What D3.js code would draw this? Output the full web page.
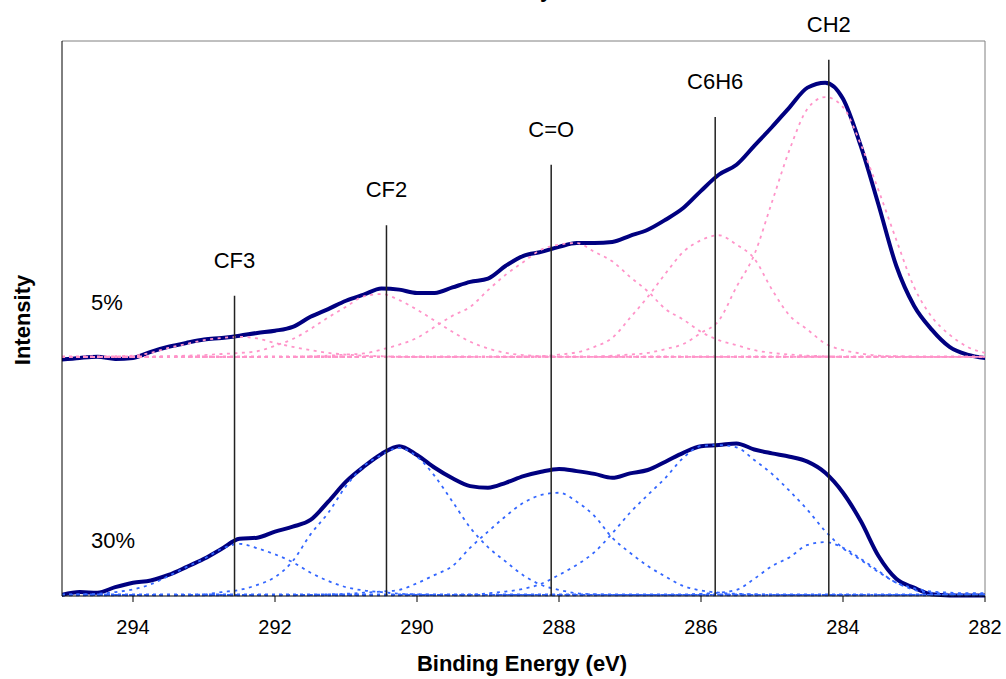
<!DOCTYPE html>
<html>
<head>
<meta charset="utf-8">
<title>C1s spectra</title>
<script src="https://cdn.jsdelivr.net/npm/d3@7"></script>
<style>
  body { margin: 0; background: #fff; }
  svg { display: block; font-family: "Liberation Sans", Arial, sans-serif; }
  .env { fill: none; stroke: #000080; stroke-width: 4; stroke-linejoin: round; stroke-linecap: round; }
  .comp { fill: none; stroke-width: 1.8; stroke-dasharray: 3 4.5; }
  .base { fill: none; stroke-width: 2.6; stroke-dasharray: 3 4; }
  .marker { stroke: #222; stroke-width: 1.5; }
</style>
</head>
<body>
<svg width="1006" height="679"></svg>
<script>
// binding energy grid (eV)
var energy = [295, 294.75, 294.5, 294.25, 294, 293.75, 293.5, 293.25, 293, 292.75, 292.5, 292.25, 292,
  291.75, 291.5, 291.25, 291, 290.75, 290.5, 290.25, 290, 289.75, 289.5, 289.25, 289, 288.75, 288.5,
  288.25, 288, 287.75, 287.5, 287.25, 287, 286.75, 286.5, 286.25, 286, 285.75, 285.5, 285.25, 285,
  284.75, 284.5, 284.25, 284, 283.75, 283.5, 283.25, 283, 282.75, 282.5, 282.25, 282];

// 5% sample: measured envelope and fitted components (above its own baseline)
var env5 = [-0.5, -0.2, 0, -0.4, -0.2, 0.9, 1.8, 2.5, 3.1, 3.4, 3.8, 4.3, 4.7, 5.4, 7.2, 8.6, 10.1,
  11.2, 12.3, 12.1, 11.5, 11.5, 12.5, 13.5, 14.1, 16.4, 18.2, 18.9, 19.8, 20.5, 20.5, 20.7, 21.8, 22.9,
  24.7, 26.8, 29.9, 32.8, 34.6, 38.0, 41.4, 45.0, 48.5, 49.4, 46.5, 38.0, 27.4, 16.4, 9.2, 4.9, 1.8, 0.4, -0.2];
var cf3_5 = [0, 0, 0, 0.1, 0.2, 0.7, 1.6, 2.3, 3.0, 3.4, 3.6, 3.3, 2.5, 1.8, 1.2, 0.7, 0.4, 0.2, 0.1, 0,
  0, 0, 0, 0, 0, 0, 0, 0, 0, 0, 0, 0, 0, 0, 0, 0, 0, 0, 0, 0, 0, 0, 0, 0, 0, 0, 0, 0, 0, 0, 0, 0, 0];
var cf2_5 = [0, 0, 0, 0, 0, 0, 0.1, 0.2, 0.3, 0.5, 0.7, 1.0, 2.0, 3.2, 5.0, 7.1, 9.0, 10.9, 11.3, 10.2,
  8.5, 6.5, 4.5, 2.7, 1.5, 0.7, 0.3, 0.1, 0, 0, 0, 0, 0, 0, 0, 0, 0, 0, 0, 0, 0, 0, 0, 0, 0, 0, 0, 0, 0, 0, 0, 0, 0];
var co_5 = [0, 0, 0, 0, 0, 0, 0, 0, 0, 0, 0, 0, 0, 0, 0.1, 0.2, 0.4, 0.6, 1.3, 2.2, 3.4, 5.4, 7.4, 9.0,
  12.0, 14.8, 17.1, 19.3, 20.2, 20.5, 18.9, 17.2, 14.4, 11.8, 8.6, 6.7, 4.5, 3.0, 2.1, 1.2, 0.7, 0.4, 0.2,
  0.1, 0, 0, 0, 0, 0, 0, 0, 0, 0];
var c6h6_5 = [0, 0, 0, 0, 0, 0, 0, 0, 0, 0, 0, 0, 0, 0, 0, 0, 0, 0, 0, 0, 0, 0, 0, 0, 0, 0, 0, 0.1, 0.4,
  0.8, 1.8, 3.4, 7.0, 10.8, 15.0, 18.9, 21.0, 21.9, 20.2, 17.7, 12.1, 7.4, 4.9, 2.4, 1.2, 0.6, 0.2, 0.1,
  0, 0, 0, 0, 0];
var ch2_5 = [0, 0, 0, 0, 0, 0, 0, 0, 0, 0, 0, 0, 0, 0, 0, 0, 0, 0, 0, 0, 0, 0, 0, 0, 0, 0, 0, 0, 0, 0,
  0, 0.2, 0.4, 0.7, 1.4, 2.3, 4.3, 6.5, 12.6, 18.4, 27.9, 37.4, 44.7, 46.8, 45.0, 38.3, 30.0, 21.1, 12.6,
  7.2, 4.0, 1.8, 0.7];

// 30% sample
var env30 = [0, 0.5, 0.4, 1.4, 2.2, 2.6, 3.6, 5.0, 6.5, 8.3, 10.1, 10.3, 11.4, 12.3, 13.5, 16.8, 20.4,
  23.1, 25.4, 26.8, 25.2, 22.9, 21.0, 19.6, 19.3, 20.2, 21.4, 22.2, 22.7, 22.3, 21.8, 21.1, 21.9, 22.5,
  24.0, 25.6, 26.8, 27.0, 27.3, 26.2, 25.5, 24.9, 24.0, 22.0, 18.4, 13.3, 7.0, 2.9, 1.3, 0.1, -0.1, -0.1, -0.1];
var cf3_30 = [0, 0.1, 0.2, 0.5, 1.0, 1.9, 3.4, 5.0, 6.5, 8.3, 9.2, 8.4, 7.3, 5.9, 4.0, 2.5, 1.4, 0.8,
  0.5, 0.2, 0.1, 0, 0, 0, 0, 0, 0, 0, 0, 0, 0, 0, 0, 0, 0, 0, 0, 0, 0, 0, 0, 0, 0, 0, 0, 0, 0, 0, 0, 0, 0, 0, 0];
var cf2_30 = [0, 0, 0, 0, 0, 0, 0, 0, 0.1, 0.5, 0.9, 1.8, 3.2, 6.1, 10.9, 14.8, 19.6, 23.2, 25.2, 26.5,
  24.9, 21.4, 16.8, 12.1, 8.6, 6.0, 3.5, 1.8, 0.9, 0.3, 0.1, 0, 0, 0, 0, 0, 0, 0, 0, 0, 0, 0, 0, 0, 0, 0,
  0, 0, 0, 0, 0, 0, 0];
var co_30 = [0, 0, 0, 0, 0, 0, 0, 0, 0, 0, 0, 0, 0, 0, 0, 0.1, 0.2, 0.4, 0.6, 0.9, 2.1, 3.6, 5.2, 8.5,
  11.4, 14.2, 16.6, 18.0, 18.4, 16.8, 14.2, 10.3, 7.6, 5.2, 3.3, 1.6, 0.8, 0.4, 0.2, 0.1, 0, 0, 0, 0, 0,
  0, 0, 0, 0, 0, 0, 0, 0];
var c6h6_30 = [0, 0, 0, 0, 0, 0, 0, 0, 0, 0, 0, 0, 0, 0, 0, 0, 0, 0, 0, 0, 0, 0, 0, 0, 0.3, 0.6, 1.1,
  2.0, 3.6, 5.4, 7.7, 11.1, 14.8, 18.0, 21.1, 24.7, 26.8, 27.0, 26.6, 24.3, 21.8, 18.7, 15.3, 11.5, 8.4,
  6.3, 4.1, 2.2, 0.9, 0.4, 0.2, 0.1, 0];
var ch2_30 = [0, 0, 0, 0, 0, 0, 0, 0, 0, 0, 0, 0, 0, 0, 0, 0, 0, 0, 0, 0, 0, 0, 0, 0, 0, 0, 0, 0, 0, 0,
  0, 0, 0, 0, 0, 0, 0.2, 0.4, 0.9, 2.9, 5.2, 6.8, 9.0, 9.5, 8.5, 6.5, 4.3, 2.2, 1.2, 0.6, 0.4, 0.3, 0.3];

var offset5 = 43.1, offset30 = 0.2;   // vertical stacking of the two spectra

// peak assignments
var peakNames = ["CF3", "CF2", "C=O", "C6H6", "CH2"];
var peakEnergy = [292.57, 290.43, 288.11, 285.8, 284.2];
var peakTop = [54.1, 66.8, 77.7, 86.3, 96.6];

var xTicks = [294, 292, 290, 288, 286, 284, 282];

var spectra = [
  { label: "5%", offset: offset5, env: env5, comps: [cf3_5, cf2_5, co_5, c6h6_5, ch2_5], color: "#ff94c9" },
  { label: "30%", offset: offset30, env: env30, comps: [cf3_30, cf2_30, co_30, c6h6_30, ch2_30], color: "#3366ff" }
];

var svg = d3.select("svg"),
    pLeft = 62, pRight = 985, pTop = 41, pBottom = 596;

var x = d3.scaleLinear().domain([295, 282]).range([pLeft, pRight]);
var y = d3.scaleLinear().domain([0, 100]).range([pBottom, pTop]);

svg.append("rect").attr("width", 1006).attr("height", 679).attr("fill", "#fff");

// plot frame (top/right grey, axes black)
svg.append("path")
    .attr("d", "M" + pLeft + "," + pTop + "H" + pRight + "V" + pBottom)
    .attr("fill", "none").attr("stroke", "#808080").attr("stroke-width", 1);

svg.append("defs").append("clipPath").attr("id", "plot")
  .append("rect").attr("x", pLeft).attr("y", pTop - 2).attr("width", pRight - pLeft).attr("height", pBottom - pTop + 4);

var g = svg.append("g").attr("clip-path", "url(#plot)");

spectra.forEach(function(s) {
  var line = d3.line()
      .x(function(d, i) { return x(energy[i]); })
      .y(function(d) { return y(d + s.offset); })
      .curve(d3.curveMonotoneX);

  g.append("path").attr("class", "env").attr("d", line(s.env));

  s.comps.forEach(function(c) {
    g.append("path").attr("class", "comp").attr("stroke", s.color).attr("d", line(c));
  });

  g.append("line").attr("class", "base").attr("stroke", s.color)
      .attr("x1", x(energy[0])).attr("x2", x(energy[energy.length - 1]))
      .attr("y1", y(s.offset)).attr("y2", y(s.offset));

  svg.append("text")
      .attr("x", x(294.59)).attr("y", y(s.offset + 8.5))
      .attr("font-size", 22).attr("fill", "#000")
      .text(s.label);
});

// axes lines
svg.append("line").attr("x1", pLeft).attr("x2", pRight).attr("y1", pBottom).attr("y2", pBottom)
    .attr("stroke", "#000").attr("stroke-width", 1);
svg.append("line").attr("x1", pLeft).attr("x2", pLeft).attr("y1", pTop).attr("y2", pBottom)
    .attr("stroke", "#000").attr("stroke-width", 1);

var tick = svg.append("g").selectAll("g").data(xTicks).enter().append("g")
    .attr("transform", function(d) { return "translate(" + x(d) + ",0)"; });
tick.append("line").attr("y1", pBottom).attr("y2", pBottom + 6).attr("stroke", "#000");
tick.append("text").attr("y", 634).attr("text-anchor", "middle").attr("font-size", 20)
    .text(function(d) { return d; });

// peak marker lines
peakNames.forEach(function(name, i) {
  var px = x(peakEnergy[i]);
  svg.append("line").attr("class", "marker")
      .attr("x1", px).attr("x2", px).attr("y1", y(peakTop[i])).attr("y2", pBottom);
  svg.append("text").attr("x", px).attr("y", y(peakTop[i]) - 28)
      .attr("text-anchor", "middle").attr("font-size", 22).text(name);
});

// axis titles
svg.append("text").attr("x", 522).attr("y", 671).attr("text-anchor", "middle")
    .attr("font-size", 22).attr("font-weight", "bold").text("Binding Energy (eV)");
svg.append("text").attr("transform", "translate(30,320) rotate(-90)").attr("text-anchor", "middle")
    .attr("font-size", 22).attr("font-weight", "bold").text("Intensity");

// chart title, cut off at the top edge of the picture
svg.append("text").attr("x", 546).attr("y", -3).attr("text-anchor", "middle")
    .attr("font-size", 22).attr("font-weight", "bold").text("y");
</script>
</body>
</html>
